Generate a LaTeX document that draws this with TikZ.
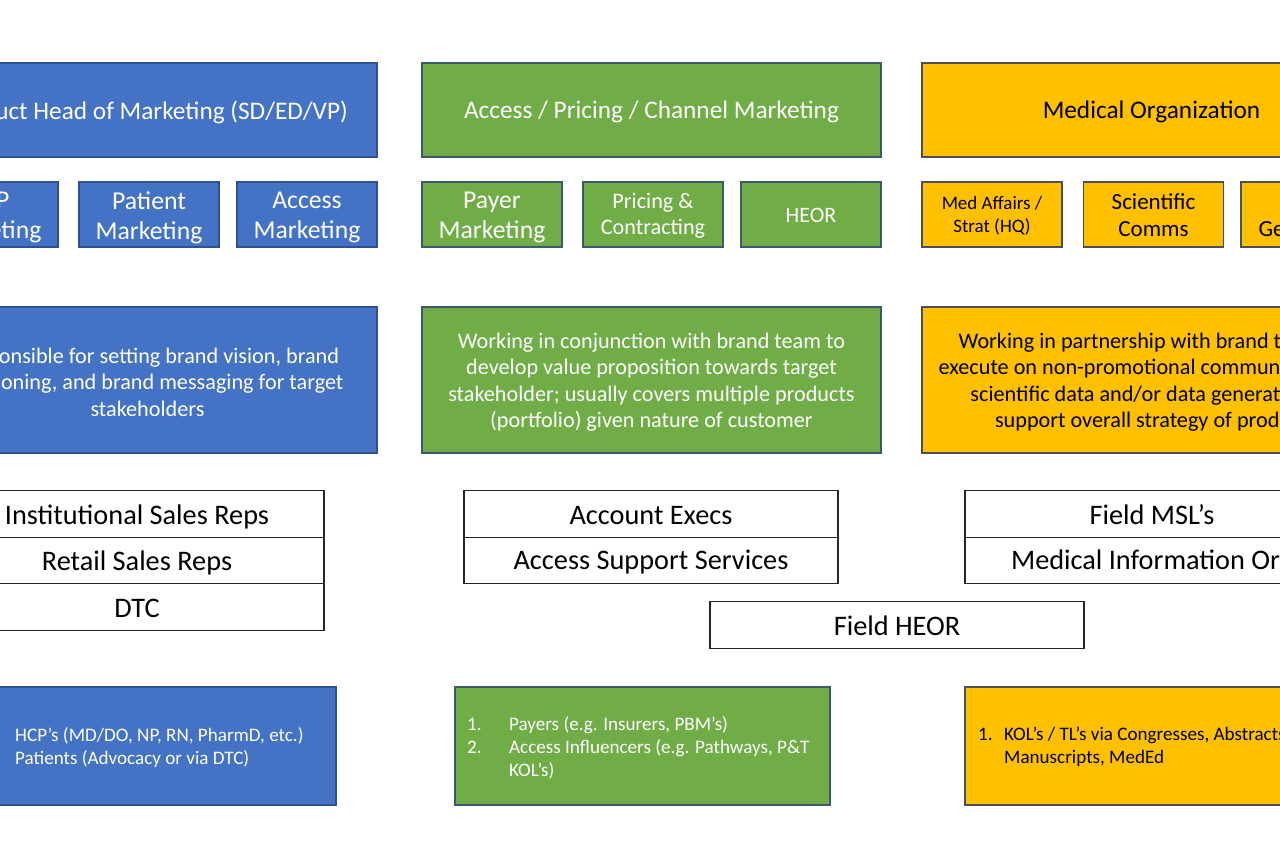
\documentclass[tikz,border=0pt]{standalone}
\usepackage{fontspec}
\setmainfont{Carlito}
\definecolor{cblue}{HTML}{4472C4}
\definecolor{cgreen}{HTML}{70AD47}
\definecolor{cyel}{HTML}{FFC000}
\definecolor{bblue}{HTML}{2F528F}
\definecolor{bgreen}{HTML}{3B5A6E}
\definecolor{byel}{HTML}{4A4F5A}
\tikzset{
  box/.style={rectangle, inner sep=0pt, line width=1.3pt},
  bluebox/.style={box, fill=cblue, draw=bblue},
  greenbox/.style={box, fill=cgreen, draw=bgreen},
  yelbox/.style={box, fill=cyel, draw=byel},
  fieldbox/.style={box, fill=white, draw=black!85, minimum width=374, minimum height=46.5},
  tx/.style={inner sep=0pt, align=center},
  wt/.style={tx, text=white},
  bt/.style={tx, text=black},
  fieldtxt/.style={bt, font=\fontsize{28.3}{32}\selectfont},
  head/.style={minimum width=459, minimum height=94},
  headtxt/.style={font=\fontsize{25.3}{30}\selectfont},
  sub/.style={minimum width=140, minimum height=65},
  desc/.style={minimum width=459, minimum height=146},
  desctxt/.style={font=\fontsize{22.2}{26.5}\selectfont},
  bottom/.style={minimum width=375, minimum height=118},
  listtxt/.style={inner sep=0pt, align=left, font=\fontsize{19.1}{23}\selectfont},
}
\begin{document}
\begin{tikzpicture}[x=1pt,y=-1pt]
\useasboundingbox (0,0) rectangle (1280,853);
\clip (0,0) rectangle (1280,853);
\fill[white] (0,0) rectangle (1280,853);
% headers
\node[bluebox, head] (hb) at (147.5,110) {};
\node[wt, headtxt] (hbt) at ([yshift=-2pt]hb.center) {Product Head of Marketing (SD/ED/VP)};
\node[greenbox, head] (hg) at (651.5,110) {};
\node[wt, headtxt] (hgt) at ([yshift=-2pt]hg.center) {Access / Pricing / Channel Marketing};
\node[yelbox, head] (hy) at (1151.5,110) {};
\node[bt, headtxt] (hyt) at ([yshift=-2pt]hy.center) {Medical Organization};
% sub boxes
\node[bluebox, sub] (s1) at (-12,214.5) {};
\node[wt, font=\fontsize{25.7}{30}\selectfont] (s1t) at ([yshift=-3pt]s1.center) {HCP\\Marketing};
\node[bluebox, sub] (s2) at (149,214.5) {};
\node[wt, font=\fontsize{25.7}{30}\selectfont] (s2t) at ([yshift=-3pt]s2.center) {Patient\\Marketing};
\node[bluebox, sub] (s3) at (307,214.5) {};
\node[wt, font=\fontsize{25.7}{30}\selectfont] (s3t) at ([yshift=-3pt]s3.center) {Access\\Marketing};
\node[greenbox, sub] (s4) at (492,214.5) {};
\node[wt, font=\fontsize{25.7}{30}\selectfont] (s4t) at ([yshift=-3pt]s4.center) {Payer\\Marketing};
\node[greenbox, sub] (s5) at (653,214.5) {};
\node[wt, font=\fontsize{22.2}{26}\selectfont] (s5t) at ([yshift=-1pt]s5.center) {Pricing \&\\Contracting};
\node[greenbox, sub] (s6) at (811,214.5) {};
\node[wt, font=\fontsize{22}{26}\selectfont] (s6t) at ([yshift=-1pt]s6.center) {HEOR};
\node[yelbox, sub] (s7) at (992,214.5) {};
\node[bt, font=\fontsize{19}{23}\selectfont] (s7t) at ([yshift=-1pt]s7.center) {Med Affairs /\\Strat (HQ)};
\node[yelbox, sub] (s8) at (1153.5,214.5) {};
\node[bt, font=\fontsize{23}{27}\selectfont] (s8t) at ([yshift=-1pt]s8.center) {Scientific\\Comms};
\node[yelbox, sub] (s9) at (1311,214.5) {};
\node[bt, font=\fontsize{23}{27}\selectfont] (s9t) at ([yshift=-1pt]s9.center) {Data\\Generation};
% descriptions
\node[bluebox, desc] (db) at (147.5,380) {};
\node[wt, desctxt] (dbt) at ([yshift=-2pt]db.center) {Responsible for setting brand vision, brand\\positioning, and brand messaging for target\\stakeholders};
\node[greenbox, desc] (dg) at (651.5,380) {};
\node[wt, desctxt] (dgt) at ([yshift=-2pt]dg.center) {Working in conjunction with brand team to\\develop value proposition towards target\\stakeholder; usually covers multiple products\\(portfolio) given nature of customer};
\node[yelbox, desc] (dy) at (1151.5,380) {};
\node[bt, desctxt] (dyt) at ([yshift=-2pt]dy.center) {Working in partnership with brand team to\\execute on non-promotional communication of\\scientific data and/or data generation to\\support overall strategy of product};
% field rows
\node[fieldbox] (f1) at (137,514) {};
\node[fieldtxt] (f1t) at ([yshift=-3pt]f1.center) {Institutional Sales Reps};
\node[fieldbox] (f2) at (137,560.5) {};
\node[fieldtxt] (f2t) at ([yshift=-2pt]f2.center) {Retail Sales Reps};
\node[fieldbox] (f3) at (137,607) {};
\node[fieldtxt] (f3t) at ([yshift=-1pt]f3.center) {DTC};
\node[fieldbox] (f4) at (651,514) {};
\node[fieldtxt] (f4t) at ([yshift=-2pt]f4.center) {Account Execs};
\node[fieldbox] (f5) at (651,560.5) {};
\node[fieldtxt] (f5t) at ([yshift=-2pt]f5.center) {Access Support Services};
\node[fieldbox] (f6) at (1152,514) {};
\node[fieldtxt] (f6t) at ([yshift=-1pt]f6.center) {Field MSL’s};
\node[fieldbox] (f7) at (1152,560.5) {};
\node[fieldtxt] (f7t) at ([yshift=-2pt]f7.center) {Medical Information Org};
\node[fieldbox] (f8) at (897,625) {};
\node[fieldtxt] (f8t) at ([yshift=-1pt]f8.center) {Field HEOR};
% bottom boxes
\node[bluebox, bottom] (bb) at (148.5,746) {};
\node[greenbox, bottom] (bg) at (642.5,746) {};
\node[yelbox, bottom] (by) at (1152.5,746) {};
\node[listtxt, text=white, anchor=west] (lb) at (-27,748.5) {\begin{tabular}{@{}p{42pt}@{}l@{}}1. & HCP’s (MD/DO, NP, RN, PharmD, etc.)\\2. & Patients (Advocacy or via DTC)\end{tabular}};
\node[listtxt, text=white, anchor=west] (lg) at (467,748.5) {\begin{tabular}{@{}p{42pt}@{}l@{}}1. & Payers (e.g. Insurers, PBM’s)\\2. & Access Influencers (e.g. Pathways, P\&T\\ & KOL’s)\end{tabular}};
\node[listtxt, text=black, anchor=west] (ly) at (978,747.5) {\begin{tabular}{@{}p{26pt}@{}l@{}}1. & KOL’s / TL’s via Congresses, Abstracts,\\ & Manuscripts, MedEd\end{tabular}};
\end{tikzpicture}
\end{document}
